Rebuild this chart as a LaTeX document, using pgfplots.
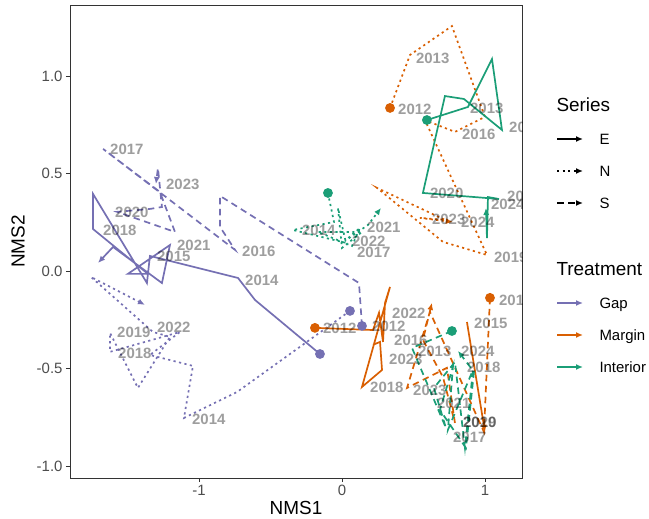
\documentclass[border=0pt]{standalone}
\usepackage{fontspec}
\setmainfont{Liberation Sans}
\usepackage{pgfplots}
\pgfplotsset{compat=1.18}
\usetikzlibrary{arrows.meta}
\definecolor{gap}{HTML}{7570B3}
\definecolor{margin}{HTML}{D95F02}
\definecolor{interior}{HTML}{1B9E77}
\definecolor{axgray}{HTML}{333333}
\definecolor{ticklab}{HTML}{4D4D4D}
\tikzset{
  E/.style={solid},
  N/.style={dash pattern=on 2.2bp off 3.4bp},
  S/.style={dash pattern=on 6.5bp off 4.5bp},
  tip/.style={-{Latex[length=7bp,width=6bp]}},
}
\pgfplotsset{
  panel/.style={
    at={(70bp,41bp)}, anchor=south west,
    scale only axis, width=452bp, height=473bp,
    xmin=-1.902, xmax=1.259, ymin=-1.062, ymax=1.364,
  },
}
\begin{document}
\begin{tikzpicture}
\useasboundingbox (0,0) rectangle (649bp,519bp);
\begin{axis}[
  panel,
  xtick={-1,0,1}, xticklabels={-1,0,1},
  ytick={-1,-0.5,0,0.5,1}, yticklabels={-1.0,-0.5,0.0,0.5,1.0},
  tick align=outside, xtick pos=left, ytick pos=left, major tick length=4bp,
  axis line style={axgray, line width=0.6bp}, tick style={axgray, line width=0.6bp},
  ticklabel style={font=\fontsize{15}{15}\selectfont, text=ticklab},
  xlabel={NMS1}, ylabel={NMS2},
  every axis x label/.style={at={(axis description cs:0.5,0)}, anchor=center, yshift=-30bp, font=\fontsize{19}{19}\selectfont},
  every axis y label/.style={at={(axis description cs:0,0.5)}, anchor=center, rotate=90, yshift=52bp, font=\fontsize{19}{19}\selectfont},
  every axis plot/.append style={line width=1.7bp},
  unbounded coords=jump,
]
% ---- Gap ----
\addplot[gap, E, tip] coordinates {(-0.154,-0.426) (-0.608,-0.149) (-0.727,-0.036) (-1.343,0.077) (-1.364,-0.062) (-1.741,0.395) (-1.741,0.215) (-1.357,-0.015) (-1.497,-0.015) (-1.203,0.133) (-1.259,-0.062) (-1.601,0.123) (-1.706,0.041)};
\addplot[gap, N, tip] coordinates {(0.056,-0.205) (-0.734,-0.621) (-1.105,-0.754) (-1.042,-0.487) (-1.343,-0.431) (-1.133,-0.313) (-1.622,-0.415) (-1.622,-0.318) (-1.427,-0.600) (-1.203,-0.338) (-1.322,-0.313) (-1.755,-0.031) (-1.378,-0.174)};
\addplot[gap, S, tip] coordinates {(0.140,-0.282) (0.119,-0.062) (-0.853,0.385) (-0.853,0.226) (-0.748,0.108) (-1.671,0.626) (-1.273,0.405) (-1.168,0.200) (-1.573,0.303) (-1.343,0.318) (-1.259,0.328) (-1.287,0.528) (-1.301,0.446)};
% ---- Margin ----
\addplot[margin, E, tip] coordinates {(-0.189,-0.292) (0.217,-0.303) (0.259,-0.215) (0.287,-0.364) (0.301,-0.164) (0.336,-0.082) (0.140,-0.595) (0.280,-0.508) (0.266,-0.364) (0.217,-0.379) (nan,nan) (0.874,-0.262) (1.000,-0.826)};
\addplot[margin, N, tip] coordinates {(0.336,0.836) (0.476,1.108) (0.769,1.256) (1.000,0.790) (0.790,0.713) (0.580,0.774) (1.014,0.082) (0.706,0.149) (0.245,0.426) (0.720,0.262) (0.545,0.272) (0.776,0.251)};
\addplot[margin, S, tip] coordinates {(1.035,-0.138) (0.993,-0.826) (0.615,-0.210) (0.455,-0.600) (0.734,-0.497) (0.790,-0.779) (0.706,-0.544) (0.566,-0.354) (0.629,-0.164)};
% ---- Interior ----
\addplot[interior, E, tip] coordinates {(0.594,0.774) (0.881,0.841) (1.049,1.087) (1.119,0.723) (0.853,0.882) (0.720,0.897) (0.566,0.400) (1.098,0.369) (1.021,0.379) (1.014,0.169) (1.007,0.323)};
\addplot[interior, N, tip] coordinates {(-0.098,0.400) (-0.056,0.251) (-0.343,0.210) (0.028,0.144) (-0.028,0.323) (0.000,0.118) (0.140,0.200) (-0.168,0.200) (0.070,0.128) (0.126,0.221) (0.021,0.154) (0.182,0.236) (0.273,0.323)};
\addplot[interior, S, tip] coordinates {(0.769,-0.308) (0.490,-0.395) (0.727,-0.805) (0.643,-0.600) (0.790,-0.467) (0.860,-0.908) (0.916,-0.508) (0.741,-0.815) (0.776,-0.492) (0.685,-0.713) (0.867,-0.908) (0.923,-0.518) (0.811,-0.410)};
% ---- start points ----
\addplot[only marks, mark=*, mark size=4bp, color=gap] coordinates {(-0.154,-0.426) (0.056,-0.205) (0.140,-0.282)};
\addplot[only marks, mark=*, mark size=4bp, color=margin] coordinates {(-0.189,-0.292) (0.336,0.836) (1.035,-0.138)};
\addplot[only marks, mark=*, mark size=4bp, color=interior] coordinates {(0.594,0.774) (-0.098,0.400) (0.769,-0.308)};
\end{axis}
% ---- year labels, clipped to the panel ----
\begin{scope}
\clip (70bp,41bp) rectangle (522bp,514bp);
\begin{axis}[panel, hide axis]
\addplot[draw=none, nodes near coords, point meta=explicit symbolic,
  every node near coord/.style={anchor=west, inner sep=0pt, font=\fontsize{15}{15}\selectfont\bfseries, text=black, text opacity=0.38}]
  table[meta=lab, row sep=\\] {
x y lab\\
-1.622 0.626 2017\\
-1.231 0.446 2023\\
-1.587 0.303 2020\\
-1.671 0.210 2018\\
-1.154 0.133 2021\\
-1.294 0.077 2015\\
-0.699 0.103 2016\\
-0.678 -0.046 2014\\
-1.573 -0.313 2019\\
-1.294 -0.287 2022\\
-1.566 -0.421 2018\\
-1.049 -0.759 2014\\
-0.133 -0.297 2012\\
0.210 -0.282 2012\\
-0.280 0.210 2014\\
0.175 0.226 2021\\
0.070 0.154 2022\\
0.105 0.097 2017\\
0.517 1.092 2013\\
0.392 0.831 2012\\
0.895 0.836 2013\\
0.839 0.703 2016\\
1.168 0.738 2015\\
0.615 0.400 2020\\
1.042 0.344 2024\\
1.154 0.385 2021\\
0.629 0.267 2023\\
0.832 0.251 2024\\
1.063 0.072 2019\\
0.350 -0.215 2022\\
0.364 -0.354 2016\\
0.531 -0.410 2013\\
0.329 -0.456 2023\\
0.196 -0.595 2018\\
0.497 -0.610 2023\\
0.664 -0.677 2021\\
0.923 -0.267 2015\\
0.832 -0.415 2024\\
0.874 -0.492 2018\\
0.846 -0.779 2019\\
0.846 -0.779 2020\\
0.776 -0.851 2017\\
1.098 -0.149 2012\\
};
\end{axis}
\end{scope}
% ---- legends ----
\node[anchor=base west, font=\fontsize{19}{19}\selectfont] at (553bp,407bp) {Series};
\draw[line width=1.7bp, E, tip] (557bp,380bp) -- (583bp,380bp);
\draw[line width=1.7bp, N, tip] (557bp,348bp) -- (583bp,348bp);
\draw[line width=1.7bp, S, tip] (557bp,316bp) -- (583bp,316bp);
\node[anchor=base west, font=\fontsize{15}{15}\selectfont] at (596bp,374.6bp) {E};
\node[anchor=base west, font=\fontsize{15}{15}\selectfont] at (596bp,342.6bp) {N};
\node[anchor=base west, font=\fontsize{15}{15}\selectfont] at (596bp,310.6bp) {S};
\node[anchor=base west, font=\fontsize{19}{19}\selectfont] at (553bp,243bp) {Treatment};
\draw[line width=1.7bp, gap, tip] (557bp,216bp) -- (583bp,216bp);
\draw[line width=1.7bp, margin, tip] (557bp,184bp) -- (583bp,184bp);
\draw[line width=1.7bp, interior, tip] (557bp,152bp) -- (583bp,152bp);
\node[anchor=base west, font=\fontsize{15}{15}\selectfont] at (596bp,210.6bp) {Gap};
\node[anchor=base west, font=\fontsize{15}{15}\selectfont] at (596bp,178.6bp) {Margin};
\node[anchor=base west, font=\fontsize{15}{15}\selectfont] at (596bp,146.6bp) {Interior};
\end{tikzpicture}
\end{document}
